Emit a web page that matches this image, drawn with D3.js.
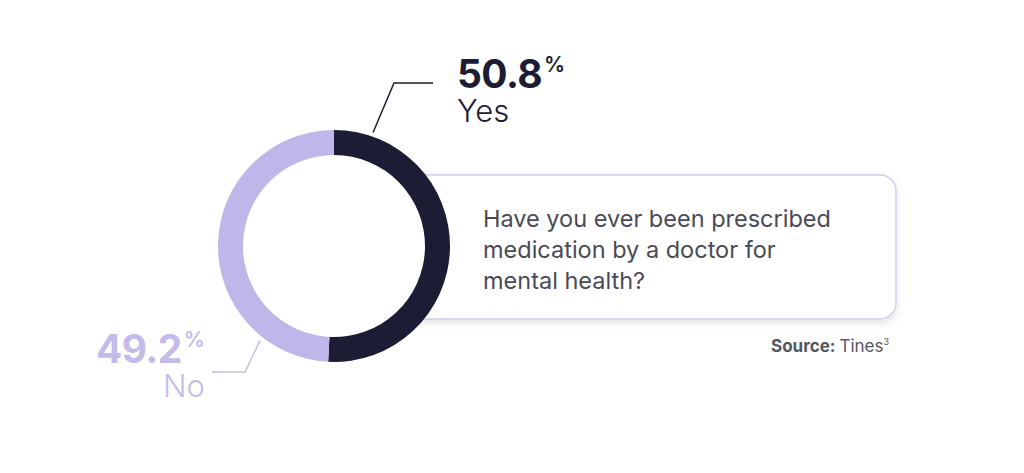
<!DOCTYPE html>
<html>
<head>
<meta charset="utf-8">
<script src="https://cdn.jsdelivr.net/npm/d3@7"></script>
<style>
  body { margin: 0; background: #fff; }
  svg { display: block; font-family: Inter, "Noto Sans", sans-serif; }
</style>
</head>
<body>
<script>
// data
var answers = ["Yes", "No"];
var shares = [50.8, 49.2];
var question = ["Have you ever been prescribed", "medication by a doctor for", "mental health?"];
var sourceName = "Tines";

var width = 1024, height = 473;
var cx = 334, cy = 246; // donut centre
var outerR = 116, innerR = 91;
var colours = d3.scaleOrdinal().domain(answers).range(["#1c1c35", "#c0b6e9"]);
var textColours = d3.scaleOrdinal().domain(answers).range(["#1c1c35", "#c4bbeb"]);

var svg = d3.select("body").append("svg")
  .attr("width", width)
  .attr("height", height);

var defs = svg.append("defs");
var shadow = defs.append("filter").attr("id", "shadow")
  .attr("x", "-10%").attr("y", "-20%").attr("width", "130%").attr("height", "150%");
shadow.append("feDropShadow")
  .attr("dx", 0).attr("dy", 3).attr("stdDeviation", 4)
  .attr("flood-color", "#000").attr("flood-opacity", 0.12);

// question card, partly hidden behind the ring
svg.append("rect")
  .attr("x", 300).attr("y", 175)
  .attr("width", 596).attr("height", 144)
  .attr("rx", 16).attr("ry", 16)
  .attr("fill", "#fff")
  .attr("stroke", "#d3cdef")
  .attr("stroke-width", 1.5)
  .attr("filter", "url(#shadow)");

svg.append("g").selectAll("text")
  .data(question)
  .enter()
  .append("text")
  .attr("x", 483)
  .attr("y", function(d, i) { return 227 + i * 31; })
  .attr("fill", "#4a4a56")
  .style("font-size", "23.5px")
  .text(function(d) { return d; });

// donut
var pie = d3.pie().sort(null).value(function(d) { return d; });
var arc = d3.arc().innerRadius(innerR).outerRadius(outerR);
var slices = pie(shares);

var donut = svg.append("g").attr("transform", "translate(" + cx + "," + cy + ")");
// white disc so the card does not show through the hole
donut.append("circle").attr("r", innerR).attr("fill", "#fff");
donut.selectAll("path")
  .data(slices)
  .enter()
  .append("path")
  .attr("d", arc)
  .attr("fill", function(d, i) { return colours(answers[i]); });

// leader lines + labels
var labels = [
  { angle: 19, elbow: [394, 83], end: [433, 83], tx: 457, ty: 88, wx: 457 },
  { angle: 218, elbow: [245, 372], end: [212, 372], tx: 96, ty: 363, wx: 163 }
];

labels.forEach(function(l, i) {
  var a = l.angle * Math.PI / 180;
  var r = outerR + 4;
  var sx = cx + r * Math.sin(a), sy = cy - r * Math.cos(a);
  svg.append("polyline")
    .attr("points", [[sx, sy], l.elbow, l.end].map(function(p) { return p.join(","); }).join(" "))
    .attr("fill", "none")
    .attr("stroke", i == 0 ? "#1c1c35" : "#c4bbeb")
    .attr("stroke-width", 1.5);

  var pct = svg.append("text")
    .attr("x", l.tx).attr("y", l.ty)
    .attr("fill", textColours(answers[i]))
    .style("font-weight", 700)
    .style("letter-spacing", "-0.6px")
    .style("font-size", "39px");
  pct.append("tspan").text(d3.format(".1f")(shares[i]));
  pct.append("tspan")
    .attr("dx", 2).attr("dy", -16)
    .style("font-size", "21px")
    .style("font-weight", 600)
    .text("%");

  svg.append("text")
    .attr("x", l.wx).attr("y", l.ty + 34)
    .attr("fill", textColours(answers[i]))
    .style("font-size", "31px")
    .style("font-weight", 300)
    .text(answers[i]);
});

// source
var src = svg.append("text")
  .attr("x", 771).attr("y", 352)
  .attr("fill", "#555560")
  .style("font-size", "17px");
src.append("tspan").style("font-weight", 700).text("Source: ");
src.append("tspan").text(sourceName);
src.append("tspan").attr("dy", -7).style("font-size", "9px").text("3");
</script>
</body>
</html>
